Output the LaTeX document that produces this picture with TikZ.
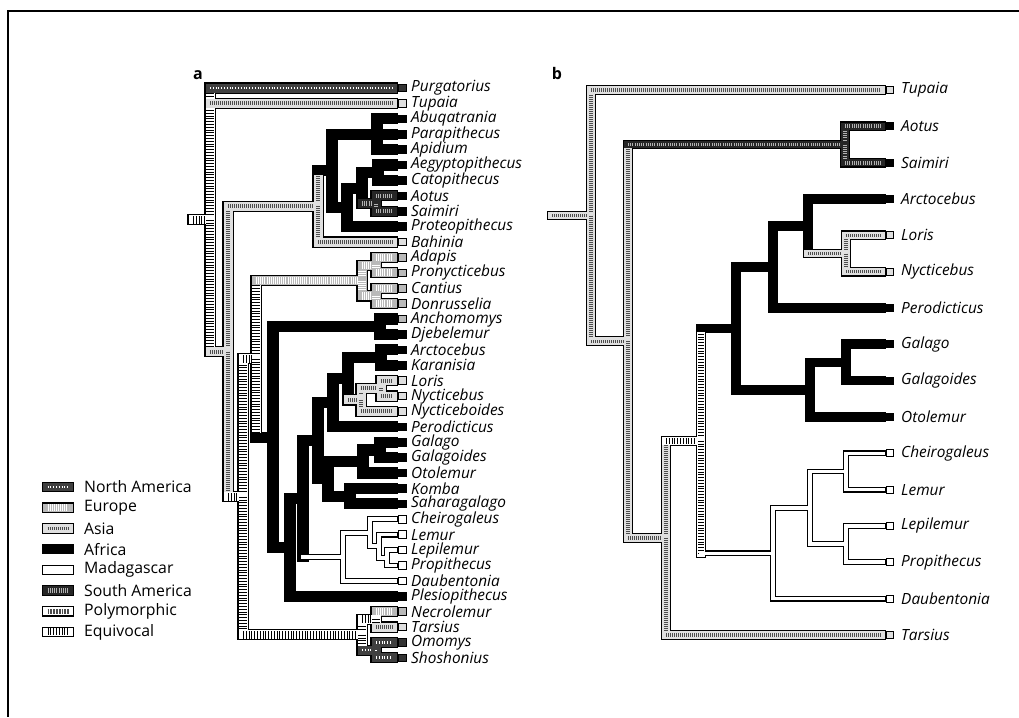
\documentclass[tikz,border=0pt]{standalone}
\usepackage{fontspec}
\setmainfont{Open Sans}
\pgfdeclarelayer{outline}
\pgfsetlayers{outline,main}

% one branch: black rim below, state fill on top
\newcommand{\band}[2]{%
  \begin{pgfonlayer}{outline}\draw[band,#1,outl] #2;\end{pgfonlayer}%
  \draw[band,#1] #2;}
% node bar plus the branch to every child
\newcommand{\clade}[3]{%
  \foreach \c/\s in {#3}{%
    \band{#1}{(#2) -- (#2 |- \c)}%
    \band{\s}{(#2 |- \c) -- (\c)}}}

\begin{document}
\begin{tikzpicture}[
    x=1pt, y=-1pt,
    bw/.store in=\bwd, bw=9pt,
    band/.style={line cap=rect, line width=\bwd},
    outl/.style={draw=black, line width=\bwd+2.2pt},
    africa/.style={draw=black},
    madag/.style={draw=white, bw=3.6pt},
    asia/.style={draw=gray!25, postaction={draw=black!70, line cap=butt, line width=0.45*\bwd, dash pattern=on 0.7pt off 1.3pt}},
    europe/.style={draw=gray!55, postaction={draw=white, line cap=butt, line width=0.8*\bwd, dash pattern=on 0.9pt off 1.2pt}},
    namer/.style={draw=black!75, postaction={draw=white, line cap=butt, line width=0.3*\bwd, dash pattern=on 0.8pt off 2pt}},
    samer/.style={draw=black!85, postaction={draw=gray!60, line cap=butt, line width=0.5*\bwd, dash pattern=on 0.6pt off 1.6pt}},
    poly/.style={draw=white, postaction={draw=black!70, line cap=butt, line width=0.6*\bwd, dash pattern=on 1.8pt off 1pt}},
    equiv/.style={draw=white, postaction={draw=black, line cap=butt, line width=0.85*\bwd, dash pattern=on 0.6pt off 2.2pt}},
    gap/.style={xshift=-0.5*\bwd-1.4pt},
    gap africa/.style={gap}, gap asia/.style={gap}, gap europe/.style={gap},
    gap namer/.style={gap}, gap samer/.style={gap}, gap madag/.style={xshift=-3.2pt},
    tipbox/.style={draw=black, line width=0.9pt, minimum size=7.5pt, inner sep=0pt},
    box africa/.style={fill=black},
    box madag/.style={fill=white},
    box asia/.style={fill=gray!25},
    box europe/.style={fill=gray!55},
    box namer/.style={fill=black!80},
    box samer/.style={fill=black},
    taxon/.style={anchor=west, inner sep=0pt, font=\fontsize{15.4}{16}\selectfont\itshape},
    key/.style={anchor=west, inner sep=0pt, font=\fontsize{15.8}{17}\selectfont},
    panel/.style={inner sep=0pt, font=\fontsize{16}{18}\selectfont\bfseries}
  ]
  \useasboundingbox (0,0) rectangle (1019,717);
  \draw[line width=1.2pt] (1019,11) -- (8,11) -- (8,717);

  \node[panel] (pa) at (198,75) {a};
  \node[panel] (pb) at (557,73) {b};

  % tree a
  \foreach \t/\s [count=\i from 0] in {Purgatorius/namer, Tupaia/asia,
      Abuqatrania/africa, Parapithecus/africa, Apidium/africa, Aegyptopithecus/africa,
      Catopithecus/africa, Aotus/africa, Saimiri/africa, Proteopithecus/africa,
      Bahinia/asia, Adapis/europe, Pronycticebus/europe, Cantius/europe,
      Donrusselia/europe, Anchomomys/europe, Djebelemur/africa, Arctocebus/africa,
      Karanisia/africa, Loris/asia, Nycticebus/asia, Nycticeboides/asia,
      Perodicticus/africa, Galago/africa, Galagoides/africa, Otolemur/africa,
      Komba/africa, Saharagalago/africa, Cheirogaleus/madag, Lemur/madag,
      Lepilemur/madag, Propithecus/madag, Daubentonia/madag, Plesiopithecus/africa,
      Necrolemur/europe, Tarsius/asia, Omomys/namer, Shoshonius/namer}{
    \node[tipbox, box \s] (xa\t) at (402.5,88+15.4*\i) {};
    \coordinate[gap \s] (a\t) at (xa\t.west);
    \node[taxon] (la\t) at (411,88+15.4*\i) {\t};
  }
  \coordinate (aStub) at (193,219.8);
  \coordinate (aRoot) at (210,219.8);
  \coordinate (aB) at (228,351.6);
  \coordinate (aC) at (318,206.4);
  \coordinate (aAnth) at (332,170.8);
  \coordinate (aPara) at (377,134.2);
  \coordinate (aE) at (347,207.4);
  \coordinate (aG) at (362,188.1);
  \coordinate (aH) at (378,172.7);
  \coordinate (aS) at (376,203.5);
  \coordinate (aD) at (243,496.8);
  \coordinate (aP) at (256,358.8);
  \coordinate (aAdap) at (362,280.5);
  \coordinate (aAP) at (376,265.1);
  \coordinate (aCD) at (376,295.9);
  \coordinate (aQ) at (273,437.1);
  \coordinate (aAnch) at (380,326.7);
  \coordinate (aR) at (290,547.5);
  \coordinate (aU) at (303,498.8);
  \coordinate (aV) at (318,440.8);
  \coordinate (aW) at (333,402.8);
  \coordinate (aW1) at (348,378.7);
  \coordinate (aAK) at (381,357.5);
  \coordinate (aAsian) at (361,399.9);
  \coordinate (aLN) at (381,388.3);
  \coordinate (aX) at (328,478.8);
  \coordinate (aY) at (363,461.5);
  \coordinate (aGG) at (380,449.9);
  \coordinate (aKS) at (350,496.1);
  \coordinate (aMad) at (343,556.8);
  \coordinate (aCL) at (370,532.7);
  \coordinate (aL1) at (379,546.2);
  \coordinate (aLP) at (387,557.7);
  \coordinate (aT) at (362,634.7);
  \coordinate (aNT) at (376,619.3);
  \coordinate (aOS) at (376,650.1);

  \band{equiv}{(aStub) -- (aRoot)}
  \clade{equiv}{aRoot}{aPurgatorius/namer, aTupaia/asia, aB/asia}
  \clade{asia}{aB}{aC/asia, aD/equiv}
  \clade{asia}{aC}{aAnth/africa, aBahinia/asia}
  \clade{africa}{aAnth}{aPara/africa, aE/africa}
  \clade{africa}{aPara}{aAbuqatrania/africa, aParapithecus/africa, aApidium/africa}
  \clade{africa}{aE}{aG/africa, aProteopithecus/africa}
  \clade{africa}{aG}{aH/africa, aS/samer}
  \clade{africa}{aH}{aAegyptopithecus/africa, aCatopithecus/africa}
  \clade{samer}{aS}{aAotus/samer, aSaimiri/samer}
  \clade{equiv}{aD}{aP/equiv, aT/equiv}
  \clade{equiv}{aP}{aAdap/europe, aQ/africa}
  \clade{europe}{aAdap}{aAP/europe, aCD/europe}
  \clade{europe}{aAP}{aAdapis/europe, aPronycticebus/europe}
  \clade{europe}{aCD}{aCantius/europe, aDonrusselia/europe}
  \clade{africa}{aQ}{aAnch/africa, aR/africa}
  \clade{africa}{aAnch}{aAnchomomys/africa, aDjebelemur/africa}
  \clade{africa}{aR}{aU/africa, aPlesiopithecus/africa}
  \clade{africa}{aU}{aV/africa, aMad/madag}
  \clade{africa}{aV}{aW/africa, aX/africa}
  \clade{africa}{aW}{aW1/africa, aPerodicticus/africa}
  \clade{africa}{aW1}{aAK/africa, aAsian/asia}
  \clade{africa}{aAK}{aArctocebus/africa, aKaranisia/africa}
  \clade{asia}{aAsian}{aLN/asia, aNycticeboides/asia}
  \clade{asia}{aLN}{aLoris/asia, aNycticebus/asia}
  \clade{africa}{aX}{aY/africa, aKS/africa}
  \clade{africa}{aY}{aGG/africa, aOtolemur/africa}
  \clade{africa}{aGG}{aGalago/africa, aGalagoides/africa}
  \clade{africa}{aKS}{aKomba/africa, aSaharagalago/africa}
  \clade{madag}{aMad}{aCL/madag, aDaubentonia/madag}
  \clade{madag}{aCL}{aCheirogaleus/madag, aL1/madag}
  \clade{madag}{aL1}{aLemur/madag, aLP/madag}
  \clade{madag}{aLP}{aLepilemur/madag, aPropithecus/madag}
  \clade{equiv}{aT}{aNT/equiv, aOS/namer}
  \clade{equiv}{aNT}{aNecrolemur/europe, aTarsius/asia}
  \clade{namer}{aOS}{aOmomys/namer, aShoshonius/namer}

  % legend
  \foreach \s/\k [count=\i from 0] in {namer/North America, europe/Europe, asia/Asia,
      africa/Africa, madag/Madagascar, samer/South America, poly/Polymorphic, equiv/Equivocal}{
    \band{\s, bw=8.4pt}{(47.5,487+20.7*\i) -- (68.5,487+20.7*\i)}
    \node[key] (key\i) at (84,487+20.7*\i) {\k};
  }

  % tree b
  \begin{scope}[bw=7.5pt, tipbox/.append style={minimum size=7pt}]
    \foreach \t/\s [count=\i from 0] in {Tupaia/asia, Aotus/samer, Saimiri/samer,
        Arctocebus/africa, Loris/asia, Nycticebus/asia, Perodicticus/africa,
        Galago/africa, Galagoides/africa, Otolemur/africa, Cheirogaleus/madag,
        Lemur/madag, Lepilemur/madag, Propithecus/madag, Daubentonia/madag, Tarsius/asia}{
      \node[tipbox, box \s] (xb\t) at (890,90+36.33*\i) {};
      \coordinate[gap \s] (b\t) at (xb\t.west);
      \node[taxon] (lb\t) at (901,90+36.33*\i) {\t};
    }
    \coordinate (bStub) at (552,215.6);
    \coordinate (bRoot) at (591,215.6);
    \coordinate (bK) at (628,341.2);
    \coordinate (bAS) at (845,144.5);
    \coordinate (bM) at (666,537.9);
    \coordinate (bN) at (701,440.8);
    \coordinate (bLo) at (736,328.4);
    \coordinate (bLor) at (773,267.1);
    \coordinate (bAL) at (808,226.3);
    \coordinate (bLN) at (846,253.5);
    \coordinate (bGal) at (810,389.8);
    \coordinate (bGG) at (846,362.5);
    \coordinate (bLem) at (773,553.3);
    \coordinate (bL) at (810,507.8);
    \coordinate (bCL) at (846,471.5);
    \coordinate (bLP) at (846,544.2);

    \band{asia}{(bStub) -- (bRoot)}
    \clade{asia}{bRoot}{bTupaia/asia, bK/asia}
    \clade{asia}{bK}{bAS/samer, bM/asia}
    \clade{samer}{bAS}{bAotus/samer, bSaimiri/samer}
    \clade{asia}{bM}{bN/equiv, bTarsius/asia}
    \clade{equiv}{bN}{bLo/africa, bLem/madag}
    \clade{africa}{bLo}{bLor/africa, bGal/africa}
    \clade{africa}{bLor}{bAL/africa, bPerodicticus/africa}
    \clade{africa}{bAL}{bArctocebus/africa, bLN/asia}
    \clade{asia}{bLN}{bLoris/asia, bNycticebus/asia}
    \clade{africa}{bGal}{bGG/africa, bOtolemur/africa}
    \clade{africa}{bGG}{bGalago/africa, bGalagoides/africa}
    \clade{madag}{bLem}{bL/madag, bDaubentonia/madag}
    \clade{madag}{bL}{bCL/madag, bLP/madag}
    \clade{madag}{bCL}{bCheirogaleus/madag, bLemur/madag}
    \clade{madag}{bLP}{bLepilemur/madag, bPropithecus/madag}
  \end{scope}
\end{tikzpicture}
\end{document}
